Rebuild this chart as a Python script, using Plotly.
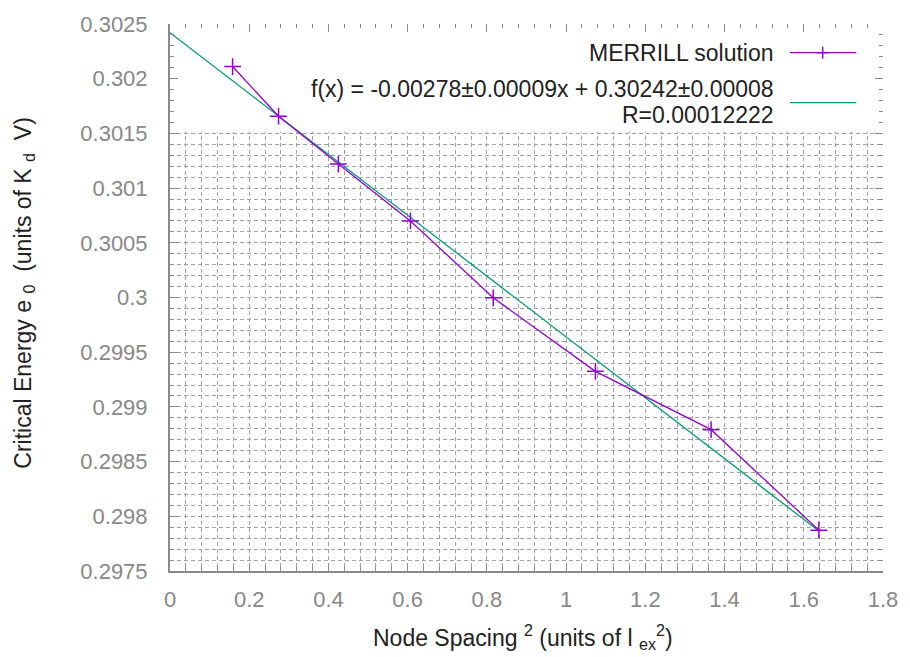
import plotly.graph_objects as go

# ---- data ----
node_spacing_sq = [0.158, 0.274, 0.425, 0.607, 0.816, 1.074, 1.366, 1.638]
critical_energy = [0.302111, 0.301657, 0.301220, 0.300700, 0.299997, 0.299325, 0.298792, 0.297873]

fit_x = [0.0, 1.638]
fit_y = [0.30242, 0.297866]

x_tickvals = [0, 0.2, 0.4, 0.6, 0.8, 1.0, 1.2, 1.4, 1.6, 1.8]
x_ticktext = ["0", "0.2", "0.4", "0.6", "0.8", "1", "1.2", "1.4", "1.6", "1.8"]
y_tickvals = [0.2975, 0.298, 0.2985, 0.299, 0.2995, 0.3, 0.3005, 0.301, 0.3015, 0.302, 0.3025]
y_ticktext = ["0.2975", "0.298", "0.2985", "0.299", "0.2995", "0.3", "0.3005", "0.301", "0.3015", "0.302", "0.3025"]

series_name = "MERRILL solution"
fit_label_1 = "f(x) = -0.00278\u00b10.00009x + 0.30242\u00b10.00008"
fit_label_2 = "R=0.00012222"

PURPLE = "#9400d3"
GREEN = "#009e73"
GRID = "#a0a0a0"
AXIS = "#8a8a8a"
TICKTXT = "#888888"
TXT = "#222222"
FONT = "Liberation Sans, Arial, sans-serif"
FS = 22
FSL = 23

XR = [0, 1.8]
YR = [0.2975, 0.3025]

fig = go.Figure()

fig.add_trace(go.Scatter(
    x=fit_x, y=fit_y, mode="lines",
    line=dict(color=GREEN, width=1.3),
    showlegend=False, hoverinfo="skip"))

fig.add_trace(go.Scatter(
    x=node_spacing_sq, y=critical_energy, mode="lines+markers",
    line=dict(color=PURPLE, width=1.3),
    marker=dict(symbol="cross-thin", size=12, color=PURPLE,
                line=dict(color=PURPLE, width=1.5)),
    showlegend=False, hoverinfo="skip"))

# invisible trace to carry mirrored tick axes
fig.add_trace(go.Scatter(x=[None], y=[None], xaxis="x2", yaxis="y2",
                         showlegend=False, hoverinfo="skip"))

L, R, T, B = 170, 19, 18, 86
W, H = 910, 657
pw, ph = W - L - R, H - T - B


def px_to_paper(px, py):
    return (px - L) / pw, (H - B - py) / ph


common_minor_x = dict(dtick=0.04, tick0=0, ticks="inside", ticklen=4,
                      tickcolor=AXIS, tickwidth=1)
common_minor_y = dict(dtick=0.0001, tick0=0.2975, ticks="inside", ticklen=4,
                      tickcolor=AXIS, tickwidth=1)

fig.update_layout(
    width=W, height=H,
    margin=dict(l=L, r=R, t=T, b=B),
    paper_bgcolor="white", plot_bgcolor="white",
    font=dict(family=FONT, size=FS, color=TXT),
    showlegend=False,
    xaxis=dict(
        range=XR, tickmode="array", tickvals=x_tickvals, ticktext=x_ticktext,
        ticks="inside", ticklen=8, tickcolor=AXIS, tickwidth=1,
        showline=True, linecolor=AXIS, linewidth=2,
        showgrid=True, gridcolor=GRID, gridwidth=1, griddash="4px,3px",
        zeroline=False, tickfont=dict(color=TICKTXT, size=FS),
        ticklabelstandoff=8,
        minor=dict(showgrid=True, gridcolor=GRID, gridwidth=1, griddash="4px,3px",
                   **common_minor_x),
    ),
    yaxis=dict(
        range=YR, tickmode="array", tickvals=y_tickvals, ticktext=y_ticktext,
        ticks="inside", ticklen=8, tickcolor=AXIS, tickwidth=1,
        showline=True, linecolor=AXIS, linewidth=2,
        showgrid=True, gridcolor=GRID, gridwidth=1, griddash="4px,3px",
        zeroline=False, tickfont=dict(color=TICKTXT, size=FS),
        ticklabelstandoff=16,
        minor=dict(showgrid=True, gridcolor=GRID, gridwidth=1, griddash="4px,3px",
                   **common_minor_y),
    ),
    xaxis2=dict(
        range=XR, overlaying="x", side="top", tickmode="array", tickvals=x_tickvals,
        ticks="inside", ticklen=8, tickcolor=AXIS, showticklabels=False,
        showline=False, showgrid=False, zeroline=False,
        minor=dict(**common_minor_x),
    ),
    yaxis2=dict(
        range=YR, overlaying="y", side="right", tickmode="array", tickvals=y_tickvals,
        ticks="inside", ticklen=8, tickcolor=AXIS, showticklabels=False,
        showline=False, showgrid=False, zeroline=False,
        minor=dict(**common_minor_y),
    ),
)

# opaque key box (covers grid, below traces)
fig.add_shape(type="rect", xref="x", yref="y", layer="between",
              x0=0.004, x1=1.795, y0=0.301515, y1=0.30247,
              fillcolor="white", line=dict(width=0))

# key entries
x_text_right, _ = px_to_paper(783, 0)
_, y1 = px_to_paper(0, 47)
_, y2 = px_to_paper(0, 84)
_, y3 = px_to_paper(0, 110)
for txt, yy_ in ((series_name, y1), (fit_label_1, y2), (fit_label_2, y3)):
    fig.add_annotation(text=txt, xref="paper", yref="paper", x=x_text_right, y=yy_,
                       xanchor="right", yanchor="middle", showarrow=False,
                       font=dict(size=FSL, color=TXT))

sx0, _ = px_to_paper(797, 0)
sx1, _ = px_to_paper(864, 0)
_, sy1 = px_to_paper(0, 47)
_, sy2 = px_to_paper(0, 97.5)
fig.add_shape(type="line", xref="paper", yref="paper", x0=sx0, x1=sx1, y0=sy1, y1=sy1,
              line=dict(color=PURPLE, width=1.3))
cx, _ = px_to_paper(830, 0)
cxa, _ = px_to_paper(824, 0)
cxb, _ = px_to_paper(836, 0)
_, cya = px_to_paper(0, 41)
_, cyb = px_to_paper(0, 53)
fig.add_shape(type="line", xref="paper", yref="paper", x0=cx, x1=cx, y0=cya, y1=cyb,
              line=dict(color=PURPLE, width=1.5))
fig.add_shape(type="line", xref="paper", yref="paper", x0=cxa, x1=cxb, y0=sy1, y1=sy1,
              line=dict(color=PURPLE, width=1.5))
fig.add_shape(type="line", xref="paper", yref="paper", x0=sx0, x1=sx1, y0=sy2, y1=sy2,
              line=dict(color=GREEN, width=1.3))

# axis titles
tx, ty = px_to_paper(527, 638)
fig.add_annotation(text="Node Spacing <sup>2</sup> (units of l <sub>ex</sub><sup>2</sup>)",
                   xref="paper", yref="paper", x=tx, y=ty, xanchor="center", yanchor="middle",
                   showarrow=False, font=dict(size=FSL, color=TXT))
yx, yy = px_to_paper(22, 290)
fig.add_annotation(text="Critical Energy e <sub>0</sub>  (units of K <sub>d</sub>  V)",
                   xref="paper", yref="paper", x=yx, y=yy, xanchor="center", yanchor="middle",
                   textangle=-90, showarrow=False, font=dict(size=FSL, color=TXT))

fig.write_html("out.html")
